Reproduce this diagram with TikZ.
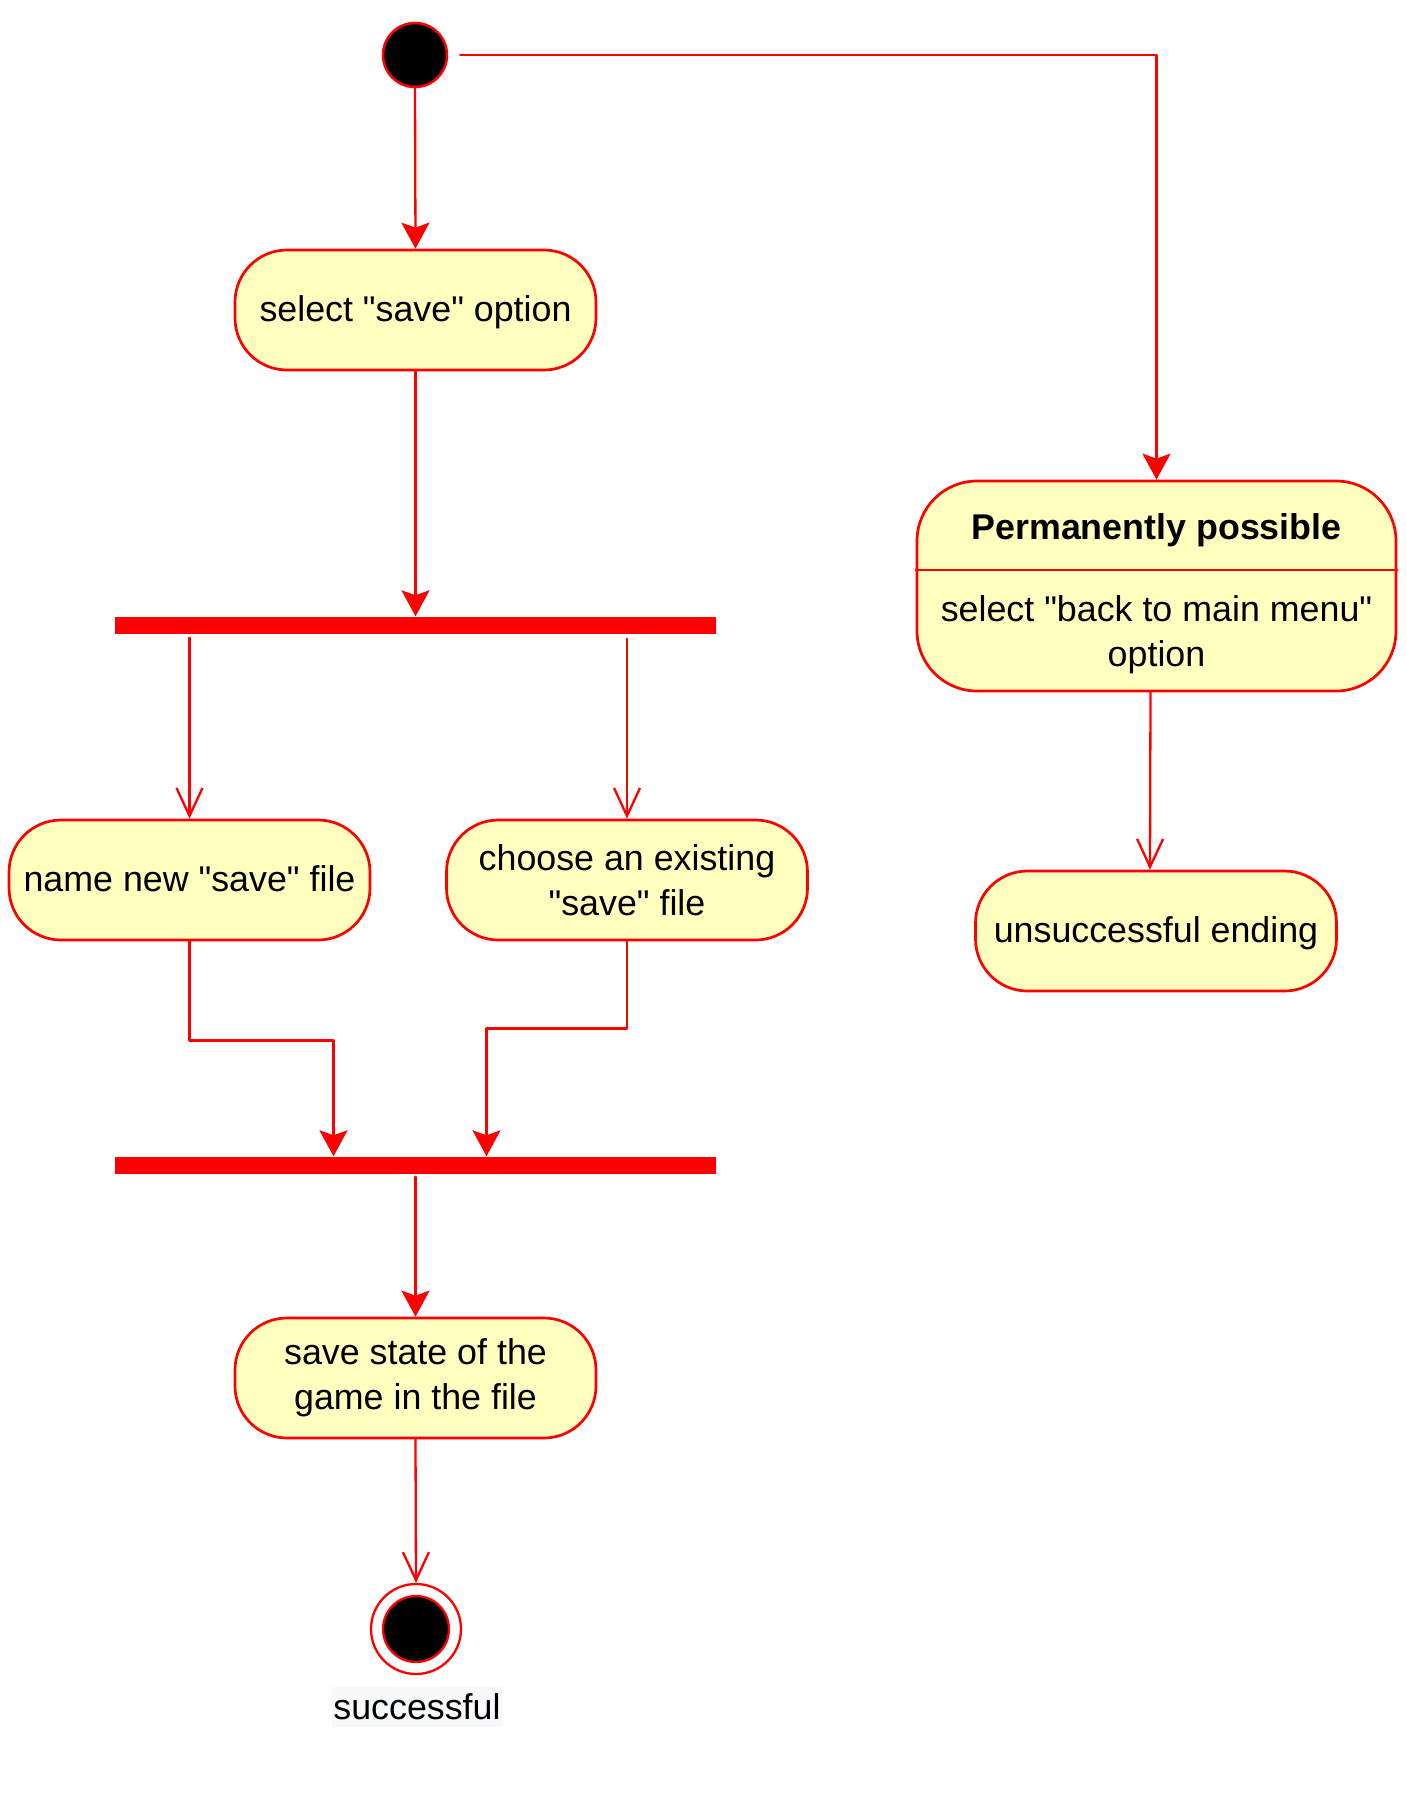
\documentclass[tikz,border=0pt]{standalone}
\usepackage{fontspec}
\newfontfamily\umlfont{Liberation Sans}
\usepackage{tikz}
\usetikzlibrary{arrows.meta}
\usetikzlibrary{calc}
\definecolor{umlred}{HTML}{FF0000}
\definecolor{umlfill}{HTML}{FFFFC0}
\definecolor{lblgray}{HTML}{F8F9FA}

\begin{document}
\begin{tikzpicture}[x=1pt,y=-1pt,line cap=round,line join=round,>={Stealth[length=26pt,width=28pt,inset=5pt]},
  every node/.style={font=\umlfont\fontsize{35.8}{45}\selectfont},
  act/.style={draw=umlred,fill=umlfill,line width=2.7pt,rounded corners=52pt,minimum width=361pt,minimum height=120pt,align=center,inner sep=0pt},
  oneline/.style={text height=30pt,text depth=7.5pt},
  bar/.style={fill=umlred,minimum width=601pt,minimum height=17pt,inner sep=0pt},
  flow/.style={draw=umlred,line width=2.3pt,->},
  openflow/.style={draw=umlred,line width=2.3pt,-{Straight Barb[length=28pt,width=26pt]}}]
        \useasboundingbox (0,0) rectangle (1407,1797);
        \node[circle,draw=umlred,fill=black,line width=2.5pt,minimum size=64pt,inner sep=0pt] (start) at (415,55) {};
        \node[act,oneline] (selectsave) at (415.5,310) {select "save" option};
        \node[bar] (forkA) at (415.5,625) {};
        \node[act,oneline] (newfile) at (189.5,880) {name new "save" file};
        \node[act] (existfile) at (627,880) {choose an existing\\"save" file};
        \node[bar] (joinB) at (415.5,1165) {};
        \node[act] (savestate) at (415.5,1378) {save state of the\\game in the file};
        \node[circle,draw=umlred,fill=white,line width=2.3pt,minimum size=90pt,inner sep=0pt] (finish) at (416,1629) {};
        \node[circle,draw=umlred,fill=black,line width=2.3pt,minimum size=66pt,inner sep=0pt] (finishdot) at (finish) {};
        \node[fill=lblgray,inner xsep=1pt,inner ysep=0pt,minimum height=40pt] (finishlbl) at (417,1707) {successful};
        \node[act,minimum width=479pt,minimum height=210pt,rounded corners=60pt] (perm) at (1156.5,586) {};
        \node[font=\umlfont\bfseries\fontsize{35.8}{45}\selectfont] (permhead) at (1156.5,530) {Permanently possible};
        \node[align=center] (permbody) at (1156.5,635) {select "back to main menu"\\option};
        \draw[draw=umlred,line width=2.3pt] ([yshift=-90pt]perm.north west) -- ([yshift=-90pt]perm.north east);
        \node[act,oneline] (unsucc) at (1156,931) {unsuccessful ending};
        \draw[flow] (start.south) -- (selectsave.north);
        \draw[flow] (selectsave.south) -- (forkA.north);
        \draw[openflow] ($(forkA.south -| newfile.north)+(0,4)$) -- (newfile.north);
        \draw[openflow] ($(forkA.south -| existfile.north)+(0,5)$) -- (existfile.north);
        \draw[flow] (newfile.south) -- ++(0,99) -| ([xshift=-82pt]joinB.north);
        \draw[flow] (existfile.south) -- ++(0,87) -| ([xshift=71pt]joinB.north);
        \draw[flow] ($(joinB.south)+(0,3)$) -- (savestate.north);
        \draw[openflow] (savestate.south) -- (finish.north);
        \draw[flow] ([xshift=12pt]start.east) -| (perm.north);
        \draw[openflow] ([xshift=-6pt]perm.south) -- ([xshift=-6pt]unsucc.north);
      \end{tikzpicture}
\end{document}
